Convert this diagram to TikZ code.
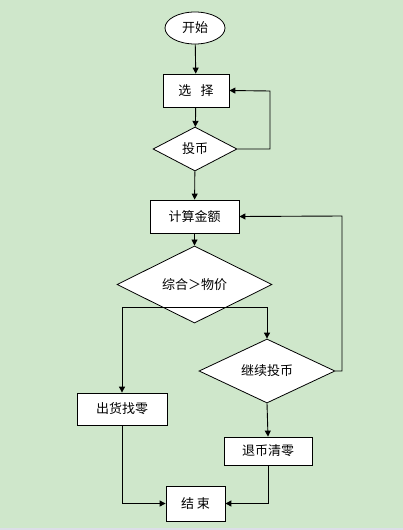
\documentclass[tikz,border=0pt]{standalone}
\usepackage{fontspec}
\newfontfamily\cjk{Noto Sans CJK SC}
\usetikzlibrary{arrows.meta,shapes.geometric}
\definecolor{bg}{RGB}{207,231,203}
\definecolor{strip}{RGB}{220,222,232}
\begin{document}
\begin{tikzpicture}[x=1pt,y=-1pt,
  every node/.style={font=\cjk\fontsize{13}{15}\selectfont, inner sep=0pt},
  procbox/.style={draw=black, fill=white, line width=0.8pt, rectangle},
  decide/.style={draw=black, fill=white, line width=0.8pt, diamond, aspect=2},
  conn/.style={draw=black, line width=0.9pt},
  arr/.style={conn, -{Triangle[length=6pt,width=6pt]}}]
\fill[bg] (0,0) rectangle (403,530);
\fill[strip] (0,527.5) rectangle (403,530);
\useasboundingbox (0,0) rectangle (403,530);

\node[draw=black, fill=white, line width=0.8pt, ellipse, minimum width=60pt, minimum height=32pt] (start) at (195,28) {开始};
\node[procbox, minimum width=66pt, minimum height=33pt] (sel) at (196,90.5) {选\hspace{0.7em}择};
\node[draw=black, fill=white, line width=0.8pt, shape=diamond, minimum width=84pt, minimum height=44pt] (coin) at (195,149) {投币};
\node[procbox, minimum width=89pt, minimum height=33pt] (calc) at (194.5,216.5) {计算金额};
\node[draw=black, fill=white, line width=0.8pt, shape=diamond, minimum width=155pt, minimum height=45pt] (cmp) at (194.5,284.5) {综合＞物价};
\node[draw=black, fill=white, line width=0.8pt, shape=diamond, minimum width=136pt, minimum height=50pt] (cont) at (267,371) {继续投币};
\node[procbox, minimum width=90pt, minimum height=32pt] (out) at (122,409) {出货找零};
\node[procbox, minimum width=88pt, minimum height=28pt] (ret) at (268,451) {退币清零};
\node[procbox, minimum width=59pt, minimum height=35pt] (end) at (195.5,503.5) {结 束};

\coordinate (bl) at (122,307);
\coordinate (br) at (267,307);
\coordinate (loop1) at (270,91);
\coordinate (loop2) at (342,216);

\draw[arr] (start) -- (sel);
\draw[arr] (sel) -- (coin);
\draw[arr] (coin.east) -| (loop1) -- (sel.east);
\draw[arr] (coin) -- (calc);
\draw[arr] (calc) -- (cmp);
\draw[conn] (bl) -- (br);
\draw[arr] (bl) -- (out.north);
\draw[arr] (br) -- (cont.north);
\draw[arr] (cont.east) -| (loop2) -- (calc.east);
\draw[arr] (cont.south) -- (ret.north);
\draw[arr] (out.south) |- (end.west);
\draw[arr] (ret.south) |- (end.east);
\end{tikzpicture}
\end{document}
